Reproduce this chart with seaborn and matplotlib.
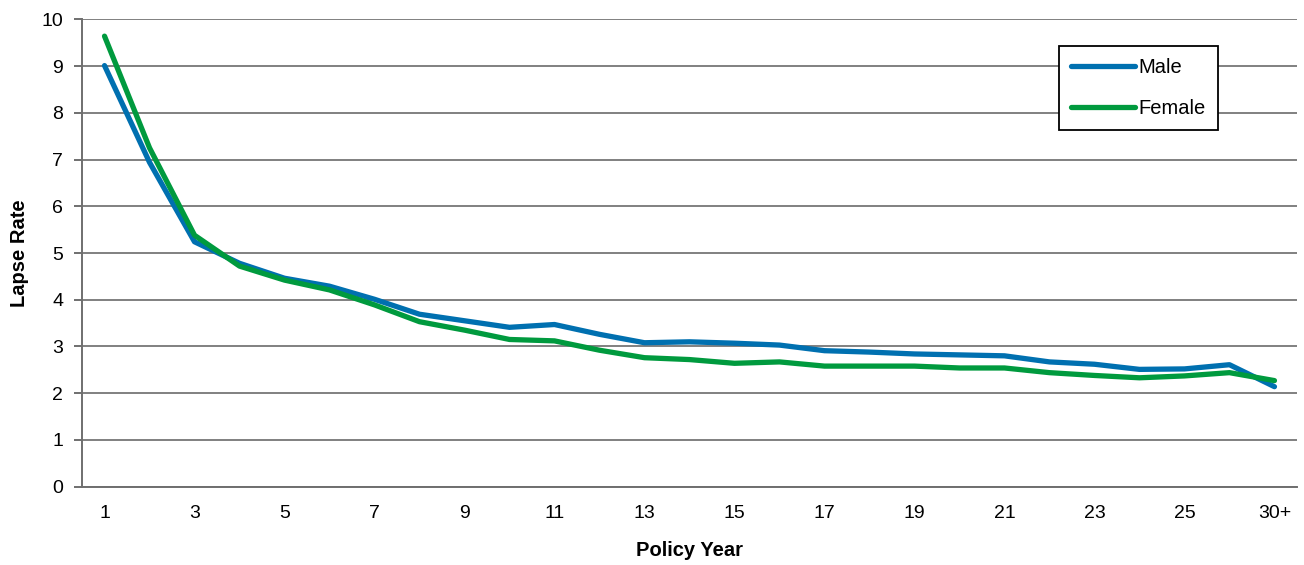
import matplotlib
matplotlib.use("Agg")
import matplotlib.pyplot as plt
import seaborn as sns
import pandas as pd
import numpy as np

years = [str(i) for i in range(1, 26)] + ["26-29", "30+"]
male = [9.01, 6.94, 5.24, 4.78, 4.46, 4.29, 4.01, 3.69, 3.55, 3.41, 3.47, 3.26, 3.08,
        3.10, 3.07, 3.03, 2.91, 2.88, 2.84, 2.82, 2.80, 2.67, 2.62, 2.51, 2.52, 2.61, 2.14]
female = [9.64, 7.25, 5.38, 4.72, 4.42, 4.21, 3.89, 3.53, 3.35, 3.15, 3.12, 2.92, 2.76,
          2.72, 2.64, 2.67, 2.58, 2.58, 2.58, 2.54, 2.54, 2.44, 2.38, 2.33, 2.37, 2.44, 2.27]
tick_labels = [str(i) for i in range(1, 26, 2)] + ["30+"]
series_names = ["Male", "Female"]
colors = {"Male": "#0070B0", "Female": "#009A3E"}

df = pd.DataFrame({
    "Policy Year": years * 2,
    "Lapse Rate": male + female,
    "Sex": ["Male"] * len(years) + ["Female"] * len(years),
})
df["pos"] = df["Policy Year"].map({y: i for i, y in enumerate(years)})

sns.set_style("white")
plt.rcParams["font.family"] = ["Liberation Sans", "DejaVu Sans"]
plt.rcParams["text.color"] = "black"
plt.rcParams["axes.labelcolor"] = "black"
plt.rcParams["xtick.color"] = "black"
plt.rcParams["ytick.color"] = "black"

fig = plt.figure(figsize=(13.04, 5.65), dpi=100)
ax = fig.add_axes([0.0629, 0.1386, 0.9317, 0.8272])

sns.lineplot(data=df, x="pos", y="Lapse Rate", hue="Sex", hue_order=series_names,
             palette=colors, linewidth=3.8, ax=ax, legend=True)

n = len(years)
ax.set_xlim(-0.5, n - 0.5)
ax.set_ylim(0, 10)
ax.set_yticks(np.arange(0, 11, 1))
ax.yaxis.grid(True, color="#808080", linewidth=1.4)
ax.set_axisbelow(True)

major_pos = list(range(0, n, 2))
ax.set_xticks(major_pos)
ax.set_xticklabels(tick_labels)
ax.set_xticks(np.arange(-0.5, n, 1), minor=True)
ax.tick_params(axis="x", which="major", length=0, pad=13, labelsize=14, labelcolor="black")
ax.tick_params(axis="x", which="minor", length=6, width=1.4, color="#6F6F6F", direction="out")
ax.tick_params(axis="y", which="major", length=6, width=1.4, color="#6F6F6F", direction="out",
               labelsize=14, pad=7.5, left=True, labelcolor="black")

for s in ["top", "right"]:
    ax.spines[s].set_visible(False)
for s in ["left", "bottom"]:
    ax.spines[s].set_color("#6F6F6F")
    ax.spines[s].set_linewidth(1.4)

ax.set_xlabel("Policy Year", fontsize=14.5, fontweight="bold", labelpad=14, color="black")
ax.set_ylabel("Lapse Rate", fontsize=14.5, fontweight="bold", labelpad=9, color="black")

leg = ax.legend(loc="upper left", bbox_to_anchor=(0.804, 0.943), frameon=True,
                fancybox=False, edgecolor="black", fontsize=14.5, handlelength=3.2,
                handletextpad=0.15, borderpad=0.6, labelspacing=1.1, borderaxespad=0)
leg.get_frame().set_linewidth(1.3)
leg.get_frame().set_alpha(1)
for t in leg.get_texts():
    t.set_color("black")
for line in leg.get_lines():
    line.set_linewidth(3.8)

fig.savefig("out.png", dpi=100)
